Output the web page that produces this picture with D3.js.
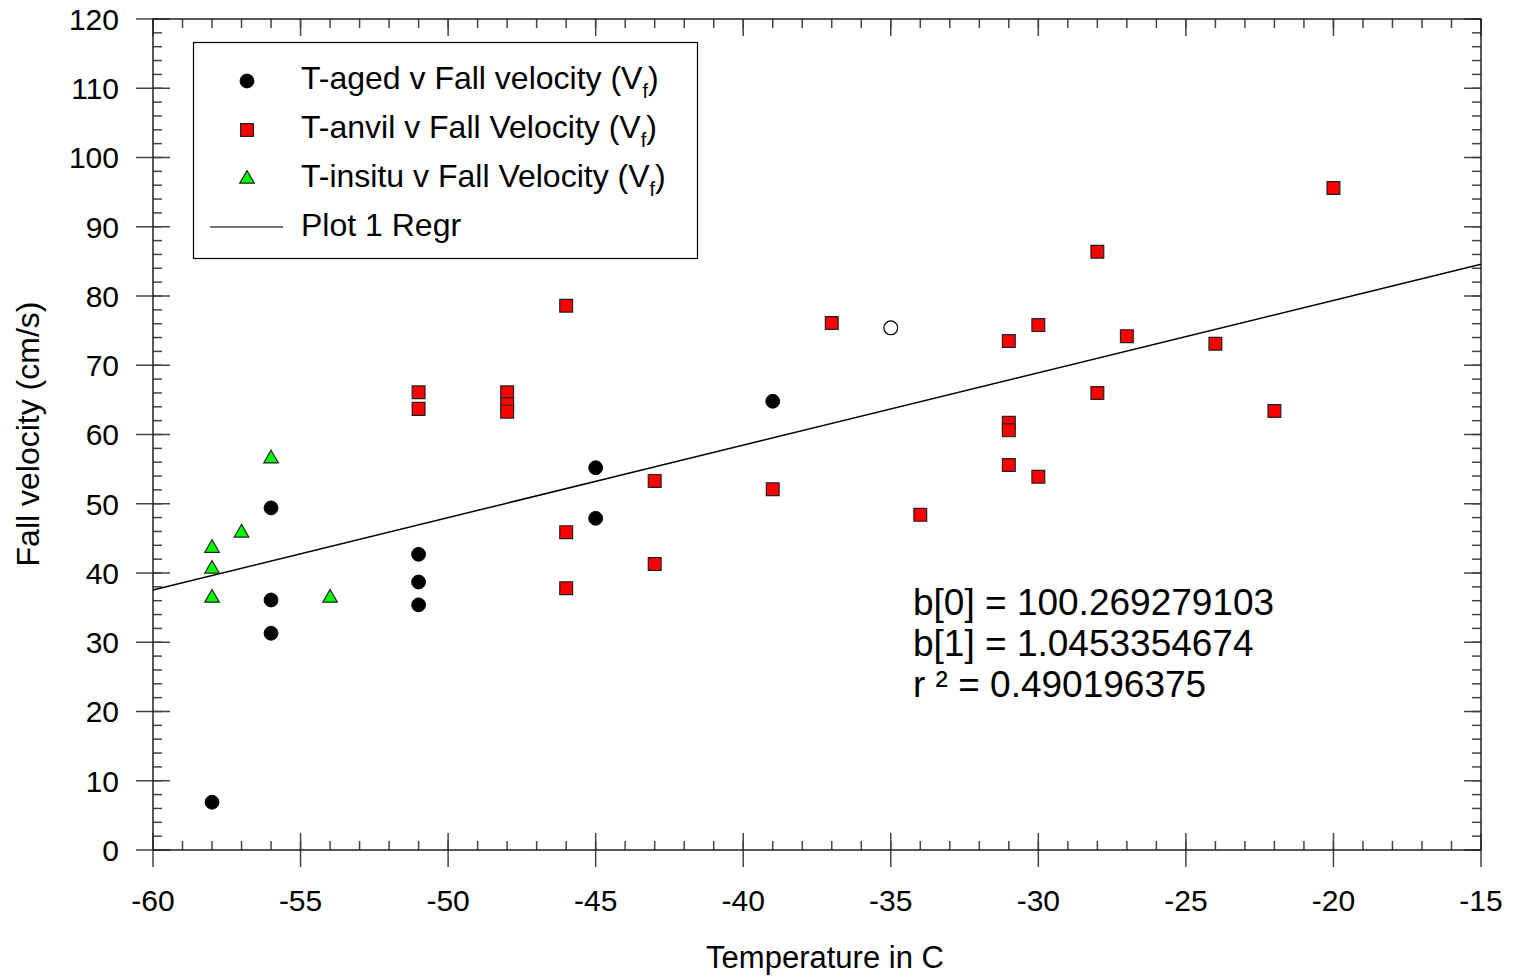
<!DOCTYPE html>
<html>
<head>
<meta charset="utf-8">
<script src="https://cdn.jsdelivr.net/npm/d3@7"></script>
<style>
  html, body { margin: 0; padding: 0; background: #fff; }
  svg { display: block; font-family: Arial, "Liberation Sans", sans-serif; }
</style>
</head>
<body>
<svg id="chart" width="1515" height="978"></svg>
<script>
// Fall velocity vs temperature scatter, with a linear regression line

// T-aged points (filled black circles)
const agedTemp = [-58, -56, -56, -56, -51, -51, -51, -45, -45, -39];
const agedVel  = [6.9, 49.4, 36.1, 31.3, 42.7, 38.7, 35.4, 55.2, 47.9, 64.8];

// the one hollow circle
const hollowTemp = [-35];
const hollowVel  = [75.4];

// T-anvil points (red squares)
const anvilTemp = [-51, -51, -48, -48, -48, -46, -46, -46, -43, -43, -39, -37, -34,
                   -31, -31, -31, -31, -30, -30, -28, -28, -27, -24, -22, -20];
const anvilVel  = [66.1, 63.7, 66.1, 64.4, 63.3, 78.6, 45.9, 37.8, 53.3, 41.3, 52.1, 76.1, 48.4,
                   73.5, 61.7, 60.6, 55.6, 75.8, 53.9, 86.4, 66.0, 74.2, 73.1, 63.4, 95.6];

// T-insitu points (green triangles)
const insituTemp = [-58, -58, -58, -57, -56, -54];
const insituVel  = [43.6, 40.6, 36.4, 45.8, 56.5, 36.4];

// regression output
const regrB0 = 100.269279103;
const regrB1 = 1.0453354674;
const regrLines = ['b[0] = 100.269279103', 'b[1] = 1.0453354674', 'r \u00b2 = 0.490196375'];

const xDomain = [-60, -15];
const yDomain = [0, 120];
const xMajor = d3.range(-60, -14, 5);
const yMajor = d3.range(0, 121, 10);
const xMinor = d3.range(-60, -14, 1);
const yMinor = d3.range(0, 121, 2);

const legendItems = [
  { label: 'T-aged v Fall velocity (V', sub: 'f', type: 'circle' },
  { label: 'T-anvil v Fall Velocity (V', sub: 'f', type: 'square' },
  { label: 'T-insitu v Fall Velocity (V', sub: 'f', type: 'triangle' },
  { label: 'Plot 1 Regr', sub: null, type: 'line' }
];

const svg = d3.select('#chart');
const plot = { left: 153, right: 1481, top: 19, bottom: 850 };

const x = d3.scaleLinear().domain(xDomain).range([plot.left, plot.right]);
const y = d3.scaleLinear().domain(yDomain).range([plot.bottom, plot.top]);

const axisColor = '#222';
const tickColor = '#444';

// ticks
const tg = svg.append('g').attr('stroke', tickColor).attr('stroke-width', 1.5);
function vTicks(vals, y1, y2) {
  tg.append('g').selectAll('line').data(vals).join('line')
    .attr('x1', d => x(d)).attr('x2', d => x(d)).attr('y1', y1).attr('y2', y2);
}
function hTicks(vals, x1, x2) {
  tg.append('g').selectAll('line').data(vals).join('line')
    .attr('y1', d => y(d)).attr('y2', d => y(d)).attr('x1', x1).attr('x2', x2);
}
// bottom: minor inside, major crossing
vTicks(xMinor, plot.bottom, plot.bottom - 9);
vTicks(xMajor, plot.bottom + 17, plot.bottom - 17);
// top: inside only
vTicks(xMinor, plot.top, plot.top + 9);
vTicks(xMajor, plot.top, plot.top + 17);
// left: minor inside, major crossing
hTicks(yMinor, plot.left, plot.left + 9);
hTicks(yMajor, plot.left - 17, plot.left + 17);
// right: inside only
hTicks(yMinor, plot.right, plot.right - 9);
hTicks(yMajor, plot.right, plot.right - 17);

// frame
svg.append('rect')
  .attr('x', plot.left).attr('y', plot.top)
  .attr('width', plot.right - plot.left).attr('height', plot.bottom - plot.top)
  .attr('fill', 'none').attr('stroke', axisColor).attr('stroke-width', 1.5);

// tick labels
svg.append('g').selectAll('text').data(xMajor).join('text')
  .attr('x', d => x(d)).attr('y', 911)
  .attr('text-anchor', 'middle').attr('font-size', 30)
  .text(d => d);
svg.append('g').selectAll('text').data(yMajor).join('text')
  .attr('x', 119).attr('y', d => y(d)).attr('dy', '0.36em')
  .attr('text-anchor', 'end').attr('font-size', 30)
  .text(d => d);

// axis titles
svg.append('text')
  .attr('x', 825).attr('y', 968)
  .attr('text-anchor', 'middle').attr('font-size', 31)
  .text('Temperature in C');
svg.append('text')
  .attr('transform', 'translate(39,434) rotate(-90)')
  .attr('text-anchor', 'middle').attr('font-size', 32)
  .text('Fall velocity (cm/s)');

// regression line
const regrLine = d3.line().x(d => x(d)).y(d => y(regrB0 + regrB1 * d));
svg.append('path')
  .attr('d', regrLine(xDomain))
  .attr('fill', 'none').attr('stroke', '#000').attr('stroke-width', 1.5);

// markers
const circleSym = d3.symbol().type(d3.symbolCircle).size(150);
const squareSym = d3.symbol().type(d3.symbolSquare).size(164);
const triSym = d3.symbol().type(d3.symbolTriangle).size(92);

const pts = (xs, ys) => xs.map((t, i) => [t, ys[i]]);

svg.append('g').selectAll('path').data(pts(agedTemp, agedVel)).join('path')
  .attr('transform', d => `translate(${x(d[0])},${y(d[1])})`)
  .attr('d', circleSym)
  .attr('fill', '#000').attr('stroke', '#000');

svg.append('g').selectAll('path').data(pts(hollowTemp, hollowVel)).join('path')
  .attr('transform', d => `translate(${x(d[0])},${y(d[1])})`)
  .attr('d', circleSym)
  .attr('fill', '#fff').attr('stroke', '#000').attr('stroke-width', 1.2);

svg.append('g').selectAll('path').data(pts(anvilTemp, anvilVel)).join('path')
  .attr('transform', d => `translate(${x(d[0])},${y(d[1])})`)
  .attr('d', squareSym)
  .attr('fill', '#ff0000').attr('stroke', '#222').attr('stroke-width', 1.2);

svg.append('g').selectAll('path').data(pts(insituTemp, insituVel)).join('path')
  .attr('transform', d => `translate(${x(d[0])},${y(d[1])})`)
  .attr('d', triSym)
  .attr('fill', '#00ff00').attr('stroke', '#222').attr('stroke-width', 1.2);

// regression stats
svg.append('g').selectAll('text').data(regrLines).join('text')
  .attr('x', 913).attr('y', (d, i) => 615 + i * 41)
  .attr('font-size', 37)
  .text(d => d);

// legend
const lg = svg.append('g');
lg.append('rect')
  .attr('x', 193.5).attr('y', 42.5).attr('width', 504).attr('height', 216)
  .attr('fill', '#fff').attr('stroke', '#000').attr('stroke-width', 1.2);

legendItems.forEach((item, i) => {
  const cy = 81 + i * 49;
  const mx = 247;
  if (item.type === 'circle') {
    lg.append('path').attr('transform', `translate(${mx},${cy})`)
      .attr('d', circleSym).attr('fill', '#000').attr('stroke', '#000');
  } else if (item.type === 'square') {
    lg.append('path').attr('transform', `translate(${mx},${cy})`)
      .attr('d', squareSym).attr('fill', '#ff0000').attr('stroke', '#222').attr('stroke-width', 1.2);
  } else if (item.type === 'triangle') {
    lg.append('path').attr('transform', `translate(${mx},${cy})`)
      .attr('d', triSym).attr('fill', '#00ff00').attr('stroke', '#222').attr('stroke-width', 1.2);
  } else {
    lg.append('line').attr('x1', 210).attr('x2', 283).attr('y1', cy - 1).attr('y2', cy - 1)
      .attr('stroke', '#444').attr('stroke-width', 1.5);
  }
  const t = lg.append('text').attr('x', 301).attr('y', cy + 8).attr('font-size', 32);
  t.append('tspan').text(item.label);
  if (item.sub) {
    t.append('tspan').attr('font-size', 20).attr('dy', 9).text(item.sub);
    t.append('tspan').attr('dy', -9).text(')');
  }
});
</script>
</body>
</html>
